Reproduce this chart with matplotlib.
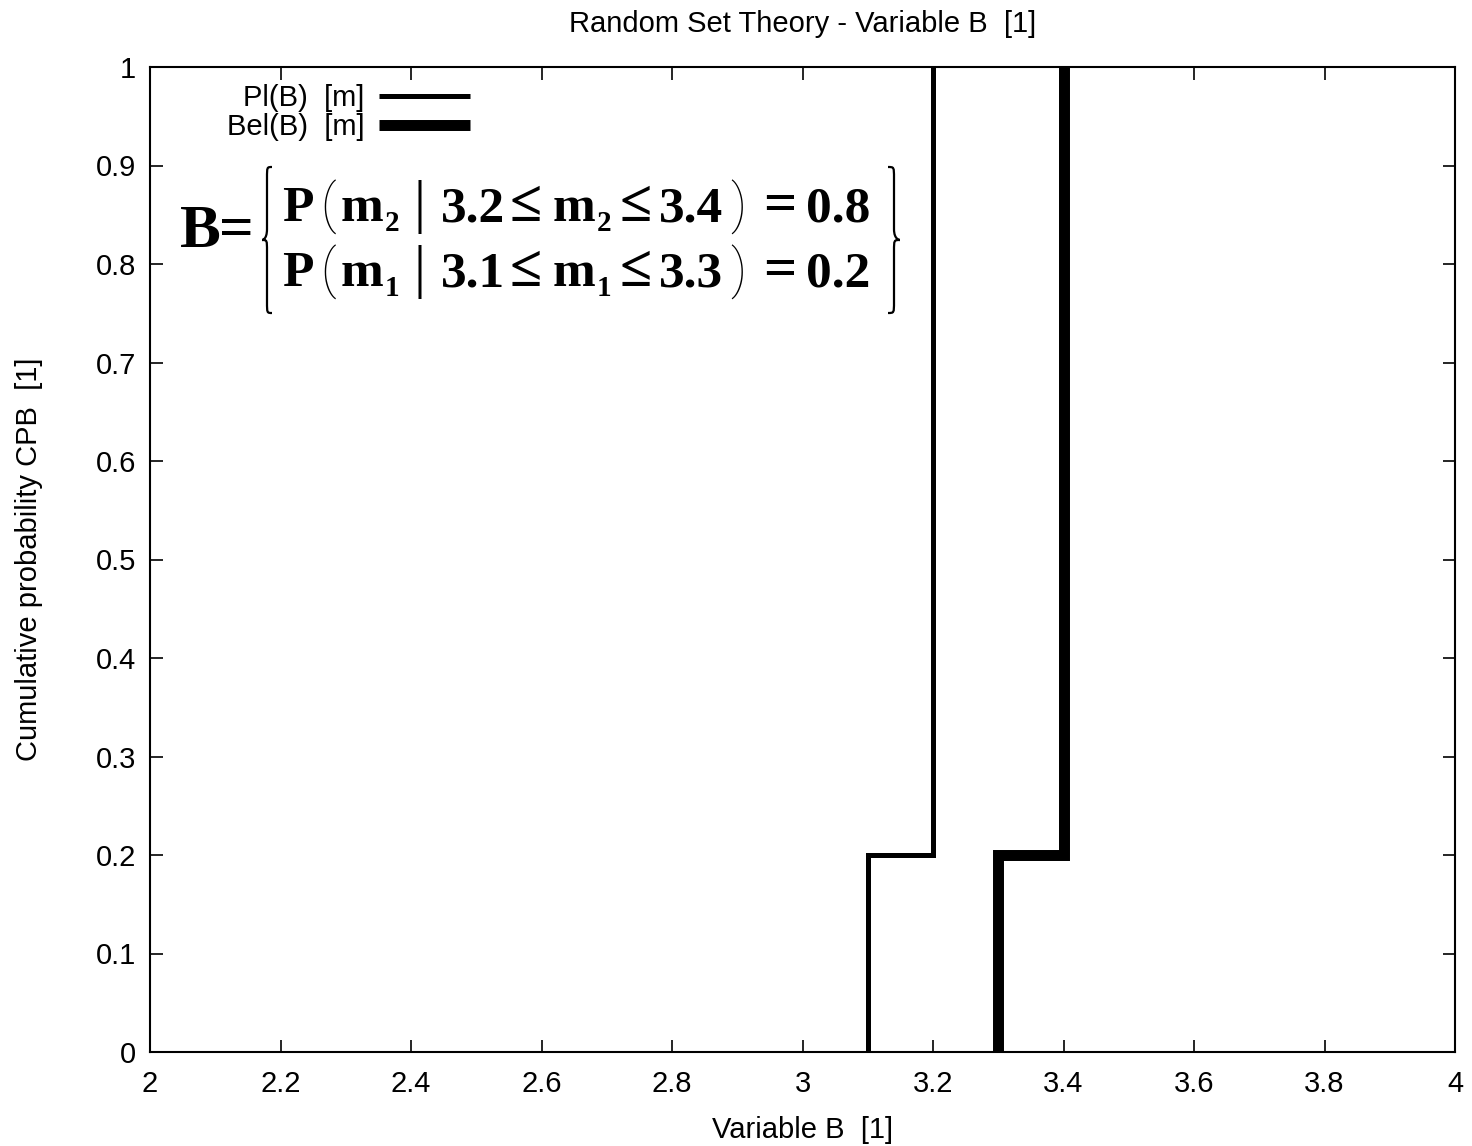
import matplotlib
matplotlib.use("Agg")
import matplotlib.pyplot as plt
from matplotlib.ticker import FuncFormatter
from matplotlib.path import Path
from matplotlib.patches import PathPatch

# Step curves of the plausibility and belief cumulative functions
pl_x = [3.1, 3.1, 3.2, 3.2]
pl_y = [0.0, 0.2, 0.2, 1.0]
bel_x = [3.3, 3.3, 3.4, 3.4]
bel_y = [0.0, 0.2, 0.2, 1.0]

x_ticks = [2.0, 2.2, 2.4, 2.6, 2.8, 3.0, 3.2, 3.4, 3.6, 3.8, 4.0]
y_ticks = [0.0, 0.1, 0.2, 0.3, 0.4, 0.5, 0.6, 0.7, 0.8, 0.9, 1.0]

# Focal elements of the random set: (index, lower, upper, mass)
focal = [("2", "3.2", "3.4", "0.8"),
         ("1", "3.1", "3.3", "0.2")]

plt.rcParams['font.family'] = ['Liberation Sans', 'DejaVu Sans']

FS = 21
W, H = 1472, 1146
fig = plt.figure(figsize=(W / 100, H / 100), dpi=100)
ax = fig.add_axes([150 / W, 1 - 1052 / H, (1455 - 150) / W, (1052 - 67) / H])

ax.plot(pl_x, pl_y, color='black', lw=3.6, solid_joinstyle='miter',
        solid_capstyle='butt', label='Pl(B)  [m]')
ax.plot(bel_x, bel_y, color='black', lw=7.9, solid_joinstyle='miter',
        solid_capstyle='butt', label='Bel(B)  [m]')

ax.set_xlim(2, 4)
ax.set_ylim(0, 1)
ax.set_xticks(x_ticks)
ax.set_yticks(y_ticks)
fmt = FuncFormatter(lambda v, p: '%g' % v)
ax.xaxis.set_major_formatter(fmt)
ax.yaxis.set_major_formatter(fmt)
ax.tick_params(direction='in', length=9, width=1.2, labelsize=FS,
               top=True, right=True, colors='black')
ax.tick_params(axis='y', pad=10)
ax.tick_params(axis='x', pad=13)
for s in ax.spines.values():
    s.set_linewidth(1.5)

ax.set_title('Random Set Theory - Variable B  [1]', fontsize=FS, pad=25)
ax.set_xlabel('Variable B  [1]', fontsize=FS, labelpad=13)
ax.set_ylabel('Cumulative probability CPB  [1]', fontsize=FS, labelpad=38)

leg = ax.legend(loc='upper right', bbox_to_anchor=(0.245, 0.983),
                frameon=False, markerfirst=False, fontsize=FS,
                handlelength=3.1, handletextpad=0.5, labelspacing=0.05,
                borderaxespad=0.0, borderpad=0.0)

# Formula annotation: B = { P(m_i | lo <= m_i <= hi) = mass }
SERIF = ['Liberation Serif', 'DejaVu Serif']
THIN = ['Roboto', 'Liberation Serif', 'DejaVu Sans']


def put(x, base, s, size, weight='bold', family=SERIF):
    """Place a text piece with its left edge at x and baseline at base (pixels)."""
    fig.text(x / W, 1 - base / H, s, fontsize=size, family=family,
             fontweight=weight, ha='left', va='baseline')


put(180, 247, 'B', 44)
put(219, 247, '=', 44)

for row, (idx, lo, hi, mass) in enumerate(focal):
    b = 221 + 65 * row
    put(282, b, 'P', 37)
    put(320, b + 2, '(', 38, 'light', THIN)
    put(341, b, 'm', 37)
    put(385, b + 10, idx, 21)
    put(413, b, '|', 43, 'normal')
    put(441, b, lo, 37)
    put(510, b, '\u2264', 42)
    put(553, b, 'm', 37)
    put(597, b + 10, idx, 21)
    put(620, b, '\u2264', 42)
    put(659, b, hi, 37)
    put(730, b + 2, ')', 38, 'light', THIN)
    put(763, b, '=', 42)
    put(806, b, mass, 37)


def brace(x, y0, y1, w, left=True):
    """Curly brace drawn in figure pixel coordinates."""
    d = 1 if left else -1
    ym = (y0 + y1) / 2
    xe = x + d * w
    xm = x
    xs = x + d * w * 0.5
    verts = [
        (xe, y0), (xs, y0), (xs, y0), (xs, y0 + (ym - y0) * 0.15),
        (xs, ym - (ym - y0) * 0.15),
        (xs, ym), (xm, ym), (xm, ym),
        (xs, ym), (xs, ym), (xs, ym + (y1 - ym) * 0.15),
        (xs, y1 - (y1 - ym) * 0.15),
        (xs, y1), (xs, y1), (xe, y1),
    ]
    codes = [Path.MOVETO, Path.CURVE4, Path.CURVE4, Path.CURVE4,
             Path.LINETO,
             Path.CURVE4, Path.CURVE4, Path.CURVE4,
             Path.CURVE4, Path.CURVE4, Path.CURVE4,
             Path.LINETO,
             Path.CURVE4, Path.CURVE4, Path.CURVE4]
    verts = [(vx / W, 1 - vy / H) for vx, vy in verts]
    fig.add_artist(PathPatch(Path(verts, codes), transform=fig.transFigure,
                             fill=False, lw=1.6, color='black'))


brace(262, 167, 313, 10, left=True)
brace(900, 167, 313, 12, left=False)

fig.savefig('out.png', dpi=100)
